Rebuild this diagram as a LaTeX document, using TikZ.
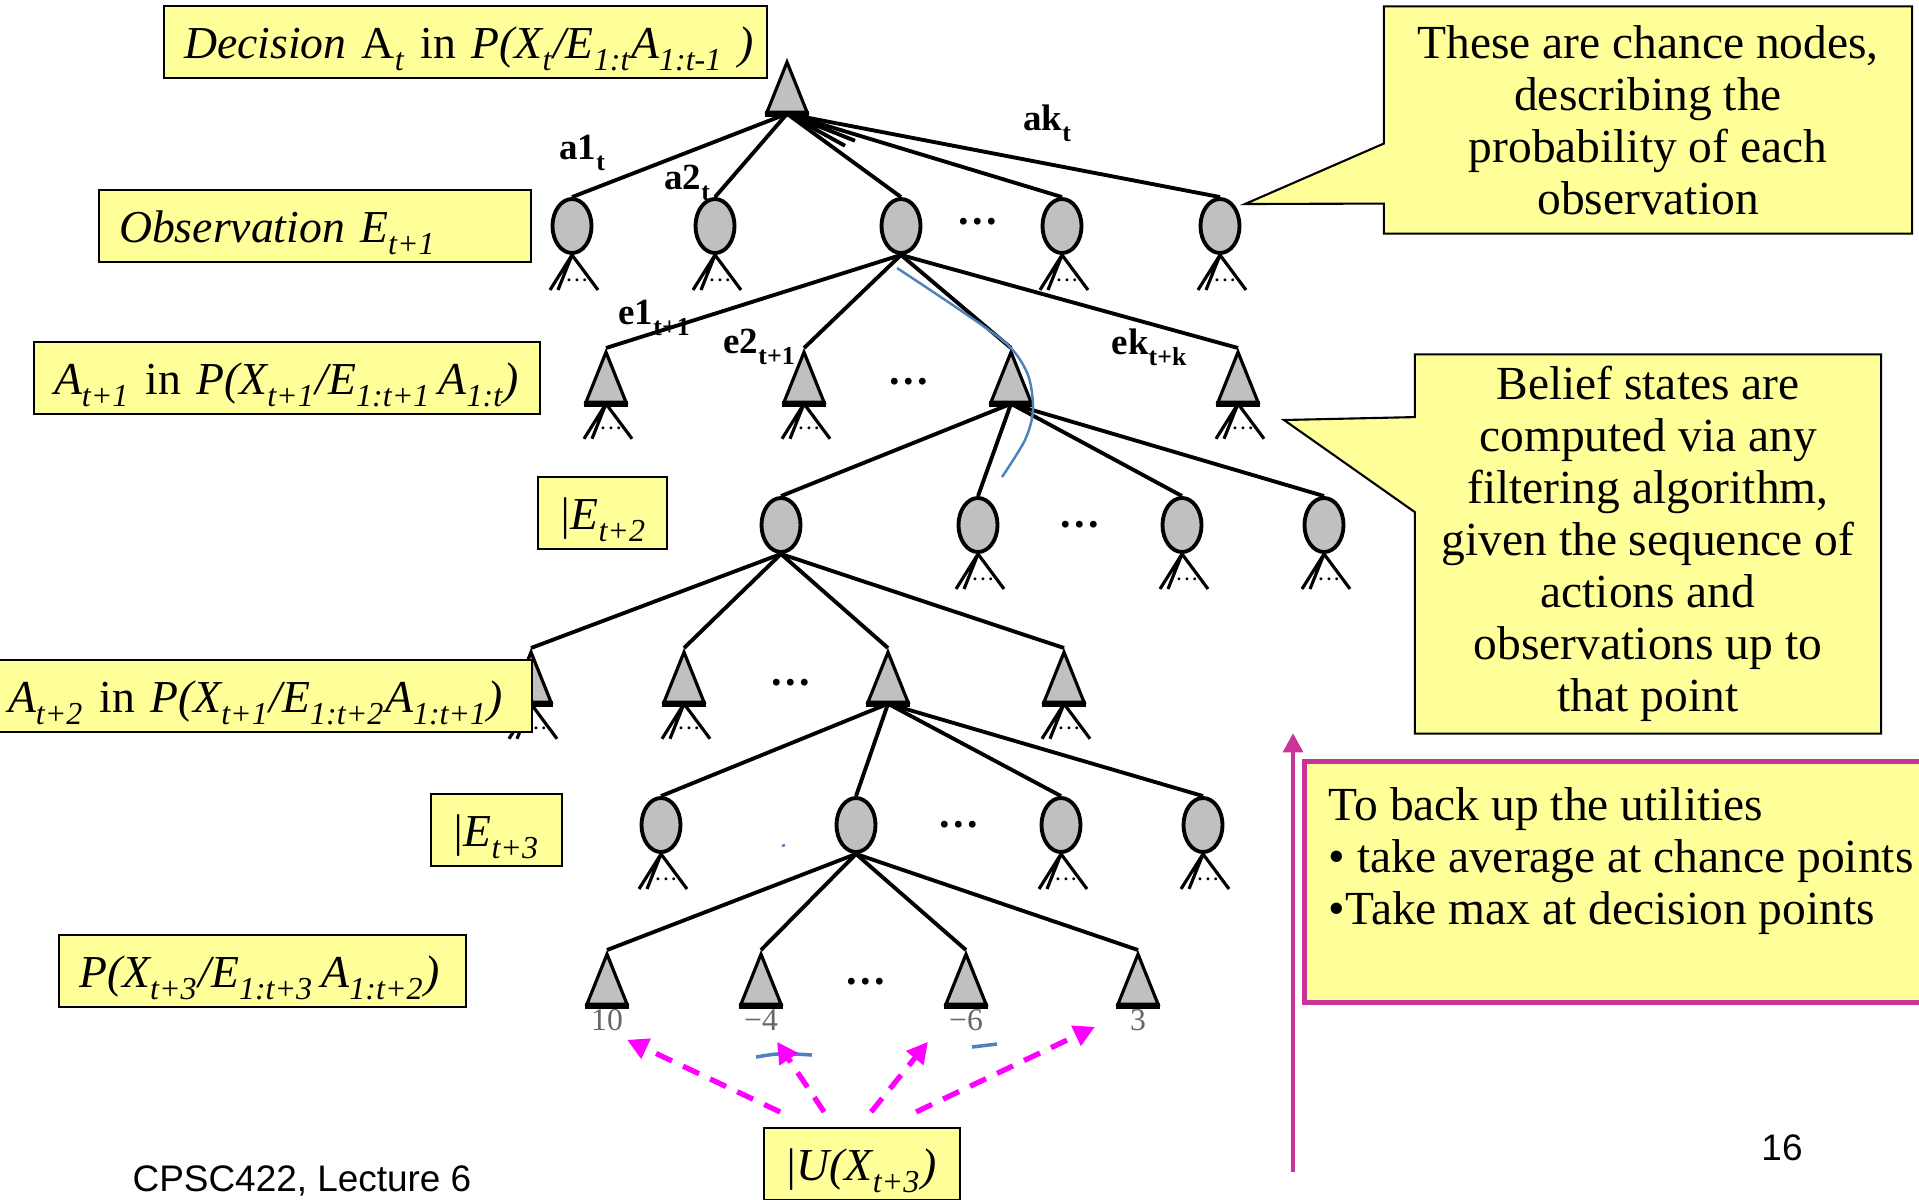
\documentclass[tikz,border=0pt]{standalone}
\usepackage{fontspec}
\setmainfont{Liberation Serif}
\newfontfamily\slidesans{Liberation Sans}
\usetikzlibrary{shapes.geometric,shapes.callouts,arrows.meta,calc}

\definecolor{boxyellow}{HTML}{FFFF99}
\definecolor{nodegray}{HTML}{C0C0C0}
\definecolor{penblue}{HTML}{4F81BD}
\definecolor{backmagenta}{HTML}{CC3399}
\definecolor{utilmagenta}{HTML}{FF00FF}

\newcommand{\sub}[1]{\raisebox{-0.3ex}{\textsubscript{#1}}}
\newcommand{\treedots}{.\hspace{1pt}.\hspace{1pt}.}

\tikzset{
  chance/.style={ellipse, draw, fill=nodegray, line width=1.1pt, inner sep=0pt,
    minimum width=0.39cm, minimum height=0.54cm},
  decision/.style={isosceles triangle, isosceles triangle stretches, shape border rotate=90,
    draw, fill=nodegray, line width=0.9pt, inner sep=0pt,
    minimum width=0.40cm, minimum height=0.50cm, anchor=apex},
  branch/.style={line width=1.1pt},
  stub/.style={line width=0.9pt},
  dotsmark/.style={font=\fontsize{12}{12}\selectfont\bfseries, inner sep=0pt},
  tinydots/.style={font=\fontsize{5}{5}\selectfont\bfseries, inner sep=0pt},
  edgelabel/.style={font=\fontsize{10.5}{12}\selectfont\bfseries, inner sep=0pt},
  value/.style={font=\fontsize{9}{10}\selectfont, text=black!60, inner sep=0pt},
  labelbox/.style={draw, fill=boxyellow, line width=0.6pt, anchor=west, align=left,
    inner xsep=0.2cm, inner ysep=0.08cm, minimum height=0.72cm, text height=0.42cm, text depth=0.1cm,
    font=\fontsize{13}{16}\selectfont\itshape},
  note/.style={rectangle callout, draw, fill=boxyellow, line width=0.6pt, align=center,
    font=\fontsize{13.5}{14.8}\selectfont},
  penmark/.style={penblue, line width=0.7pt},
  utilarrow/.style={utilmagenta, line width=1.5pt, dash pattern=on 5pt off 3.5pt,
    -{Triangle[length=6pt,width=6pt]}},
  backarrow/.style={backmagenta, line width=1.4pt, -{Triangle[length=5.5pt,width=5.5pt]}}
}

\begin{document}
\begin{tikzpicture}[x=0.01cm, y=-0.01cm]
  \useasboundingbox (0,0) rectangle (1919,1199);
  \clip (0,0) rectangle (1919,1199);

  % Tree nodes
  \node[decision] (d0) at (787,58) {};
  \foreach \n/\x in {1/572,2/715,3/901,4/1062,5/1220}
    \node[chance] (c1\n) at (\x,226) {};
  \foreach \n/\x in {1/606,2/804,3/1011,4/1238}
    \node[decision] (d2\n) at (\x,348) {};
  \foreach \n/\x in {1/781,2/978,3/1182,4/1324}
    \node[chance] (c3\n) at (\x,525) {};
  \foreach \n/\x in {1/531,2/684,3/888,4/1064}
    \node[decision] (d4\n) at (\x,648) {};
  \foreach \n/\x in {1/661,2/856,3/1061,4/1203}
    \node[chance] (c5\n) at (\x,825) {};
  \foreach \n/\x in {1/607,2/761,3/966,4/1138}
    \node[decision] (d6\n) at (\x,950) {};

  % Thick triangle bases
  \foreach \n in {d0,d21,d22,d23,d24,d41,d42,d43,d44,d61,d62,d63,d64}
    \draw[line width=1.8pt] (\n.left corner) -- (\n.right corner);

  % Branches
  \foreach \c in {c11,c12,c13,c14,c15}
    \draw[branch] (d0.south) -- (\c.north);
  \draw[branch] (d0.south) -- ++(58,32) (d0.south) -- ++(68,27);
  \foreach \c in {d21,d22,d23,d24}
    \draw[branch] (c13.south) -- (\c.north);
  \foreach \c in {c31,c32,c33,c34}
    \draw[branch] (d23.south) -- (\c.north);
  \foreach \c in {d41,d42,d43,d44}
    \draw[branch] (c31.south) -- (\c.north);
  \foreach \c in {c51,c52,c53,c54}
    \draw[branch] (d43.south) -- (\c.north);
  \foreach \c in {d61,d62,d63,d64}
    \draw[branch] (c52.south) -- (\c.north);

  % Unexpanded subtrees
  \foreach \n in {c11,c12,c14,c15,d21,d22,d24,c32,c33,c34,d41,d42,d44,c51,c53,c54} {
    \draw[stub] (\n.south) -- ++(-22,35) (\n.south) -- ++(-14,35) (\n.south) -- ++(26,35);
    \node[tinydots] at ($(\n.south)+(5,25)$) {\treedots};
  }

  % Omitted siblings
  \node[dotsmark] (dots1) at (978,222) {\treedots};
  \node[dotsmark] (dots2) at (909,382) {\treedots};
  \node[dotsmark] (dots3) at (1080,525) {\treedots};
  \node[dotsmark] (dots4) at (791,683) {\treedots};
  \node[dotsmark] (dots5) at (959,825) {\treedots};
  \node[dotsmark] (dots6) at (866,982) {\treedots};

  % Branch labels
  \node[edgelabel] (la1) at (583,153) {a1\sub{t}};
  \node[edgelabel] (la2) at (688,183) {a2\sub{t}};
  \node[edgelabel] (lak) at (1048,123) {ak\sub{t}};
  \node[edgelabel] (le1) at (655,318) {e1\sub{t+1}};
  \node[edgelabel] (le2) at (760,347) {e2\sub{t+1}};
  \node[edgelabel] (lek) at (1150,347) {ek\sub{t+k}};

  % Utilities
  \node[value] (v1) at ($(d61.south)+(0,14)$) {10};
  \node[value] (v2) at ($(d62.south)+(0,14)$) {−4};
  \node[value] (v3) at ($(d63.south)+(0,14)$) {−6};
  \node[value] (v4) at ($(d64.south)+(0,14)$) {3};

  % Pen marks
  \draw[penmark] plot[smooth] coordinates {(897,268) (960,310) (1008,345) (1028,375) (1033,410) (1025,440) (1002,477)};
  \draw[penmark, line width=1pt] (756,1057) .. controls (780,1053) .. (812,1055);
  \draw[penmark, line width=1pt] (972,1047) -- (997,1044);
  \draw[penmark] (782,846) -- (785,845);

  % Level labels
  \node[labelbox, text width=5.63cm] (declabel) at (163,42) {\mbox{Decision \textup{A}\sub{t} \textup{in} P(X\sub{t}/E\sub{1:t}A\sub{1:t-1} )}};
  \node[labelbox, text width=3.92cm] (obslabel) at (98,226) {\mbox{Observation E\sub{t+1}}};
  \node[labelbox, text width=4.66cm] (act1label) at (33,378) {\mbox{A\sub{t+1} \textup{in} P(X\sub{t+1}/E\sub{1:t+1}\,A\sub{1:t})}};
  \node[labelbox, text width=0.89cm] (obs2label) at (537,513) {\mbox{|E\sub{t+2}}};
  \node[labelbox, text width=5.04cm] (act2label) at (-13,696) {\mbox{A\sub{t+2} \textup{in} P(X\sub{t+1}/E\sub{1:t+2}A\sub{1:t+1})}};
  \node[labelbox, text width=0.91cm] (obs3label) at (430,830) {\mbox{|E\sub{t+3}}};
  \node[labelbox, text width=3.67cm] (beliefabel) at (58,971) {\mbox{P(X\sub{t+3}/E\sub{1:t+3}\,A\sub{1:t+2})}};
  \node[labelbox, text width=1.56cm] (ubox) at (763,1164) {\mbox{|U(X\sub{t+3})}};

  % Utility arrows
  \draw[utilarrow] ($(ubox.north)+(-82,-15)$) -- ($(v1)+(20,20)$);
  \draw[utilarrow] ($(ubox.north)+(-38,-15)$) -- ($(v2)+(16,22)$);
  \draw[utilarrow] ($(ubox.north)+(9,-15)$) -- ($(v3)+(-38,22)$);
  \draw[utilarrow] ($(ubox.north)+(54,-15)$) -- ($(v4)+(-43,7)$);

  % Callouts
  \node[note, minimum width=5.28cm, minimum height=2.27cm,
    callout absolute pointer={(1245,204)}, callout pointer width=0.6cm] (chancenote) at (1648,120)
    {These are chance nodes,\\describing the\\probability of each\\observation};
  \node[note, minimum width=4.66cm, minimum height=3.77cm,
    callout absolute pointer={(1284,420)}, callout pointer width=0.95cm] (beliefnote) at (1648,544)
    {Belief states are\\computed via any\\filtering algorithm,\\given the sequence of\\actions and\\observations up to\\that point};

  % Backing up
  \node[draw=backmagenta, line width=1.4pt, fill=boxyellow, minimum width=6.30cm, minimum height=2.41cm] (backup) at (1620,882) {};
  \node[anchor=north west, align=left, inner sep=0pt, font=\fontsize{13.5}{14.8}\selectfont] (backuptext) at (1328,787)
    {To back up the utilities\\• take average at chance points\\•Take max at decision points};
  \coordinate (backtail) at (1293,1172);
  \coordinate (backhead) at (1293,733);
  \draw[backarrow] (backtail) -- (backhead);

  % Footer
  \node[font=\slidesans\fontsize{10.5}{12}\selectfont] (footer) at (302,1181) {CPSC422, Lecture 6};
  \node[font=\slidesans\fontsize{10.5}{12}\selectfont] (pagenum) at (1782,1148) {16};
\end{tikzpicture}
\end{document}
